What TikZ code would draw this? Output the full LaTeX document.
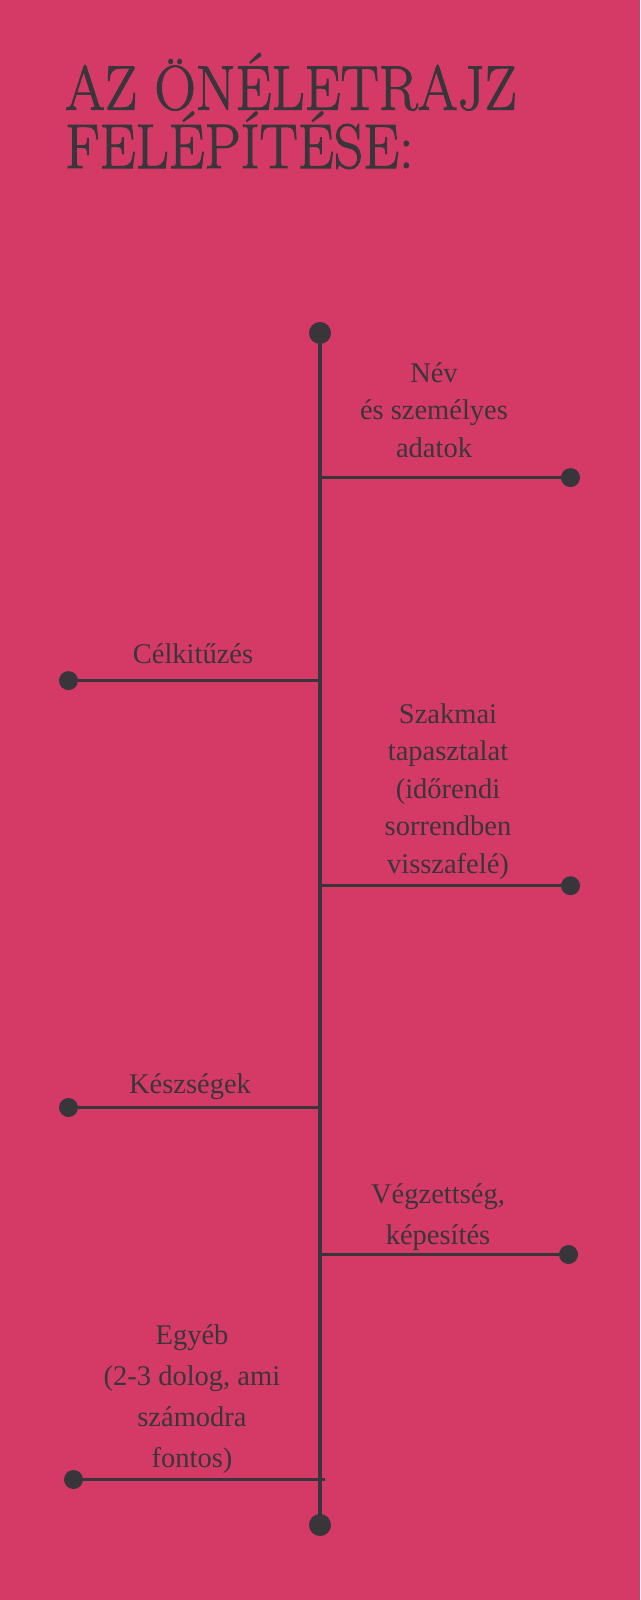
\documentclass[tikz,border=0pt]{standalone}
\usepackage{fontspec}
\newfontfamily\bodyfont{Liberation Serif}
\newfontfamily\titlefont{Latin Modern Roman}[FakeBold=1.6]
\definecolor{bg}{RGB}{213,58,102}
\definecolor{ink}{RGB}{56,54,58}
\begin{document}
\begin{tikzpicture}[x=1pt,y=-1pt,
  dot/.style={circle,fill=ink,inner sep=0pt,minimum size=19pt},
  bigdot/.style={circle,fill=ink,inner sep=0pt,minimum size=22pt},
  link/.style={draw=ink,line width=3.4pt},
  lbl/.style={text=ink,font=\bodyfont\fontsize{28.5}{37.5}\selectfont,align=center,anchor=base,inner sep=0pt},
  wide/.style={font=\bodyfont\fontsize{28.5}{40.7}\selectfont},
  title/.style={text=ink,font=\titlefont\fontsize{63}{53}\selectfont,align=left,anchor=base west,inner sep=0pt,xscale=0.91,transform shape}]
\fill[bg] (0,0) rectangle (640,1600);
\useasboundingbox (0,0) rectangle (640,1600);

\node[title] (ttl) at (65,168) {AZ ÖNÉLETRAJZ\\FELÉPÍTÉSE:};

% spine
\node[bigdot] (top) at (320,333) {};
\node[bigdot] (bot) at (320,1525) {};
\draw[link] (top.center) -- (bot.center);

% branches
\coordinate (s1) at (320,477.6);
\node[dot] (d1) at (570.5,477.6) {};
\coordinate (s2) at (320,680.6);
\node[dot] (d2) at (68.5,680.6) {};
\coordinate (s3) at (320,885.7);
\node[dot] (d3) at (570.5,885.7) {};
\coordinate (s4) at (320,1107.5);
\node[dot] (d4) at (68.5,1107.5) {};
\coordinate (s5) at (320,1254.5);
\node[dot] (d5) at (568.5,1254.5) {};
\coordinate (s6) at (325,1479.5);
\node[dot] (d6) at (73.5,1479.5) {};
\foreach \i in {1,...,6}{\draw[link] (s\i) -- (d\i.center);}

% labels (anchor = baseline of last line)
\node[lbl] (l1) at (434,457) {Név\\és személyes\\adatok};
\node[lbl] (l2) at (193,663) {Célkitűzés};
\node[lbl] (l3) at (448,873) {Szakmai\\tapasztalat\\(időrendi\\sorrendben\\visszafelé)};
\node[lbl] (l4) at (190,1093) {Készségek};
\node[lbl,wide] (l5) at (438,1244) {Végzettség,\\képesítés};
\node[lbl,wide] (l6) at (192,1467) {Egyéb\\(2-3 dolog, ami\\számodra\\fontos)};
\end{tikzpicture}
\end{document}
